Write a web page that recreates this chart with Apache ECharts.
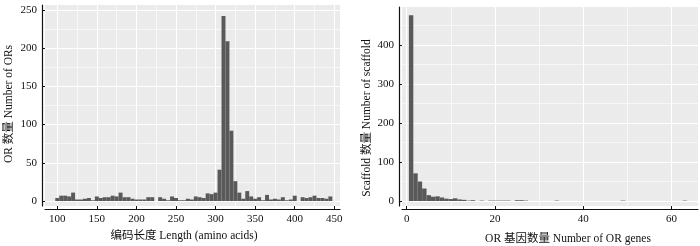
<!DOCTYPE html>
<html>
<head>
<meta charset="utf-8">
<script src="https://cdn.jsdelivr.net/npm/echarts@6/dist/echarts.min.js"></script>
<style>
html, body { margin: 0; padding: 0; background: #fff; }
#chart { width: 700px; height: 246px; }
</style>
</head>
<body>
<div id="chart"></div>
<script>
// left panel: coding length histogram (bin width 5 aa)
const lengthBins = [100, 105, 110, 115, 120, 125, 130, 135, 140, 145,
    150, 155, 160, 165, 170, 175, 180, 185, 190, 195,
    200, 205, 210, 215, 220, 225, 230, 235, 240, 245,
    250, 255, 260, 265, 270, 275, 280, 285, 290, 295,
    300, 305, 310, 315, 320, 325, 330, 335, 340, 345,
    350, 355, 360, 365, 370, 375, 380, 385, 390, 395,
    400, 405, 410, 415, 420, 425, 430, 435, 440, 445];
const orCounts = [4, 7, 7, 6, 11, 2, 2, 3, 4, 1,
    6, 4, 5, 5, 7, 6, 11, 5, 5, 3,
    2, 2, 2, 5, 5, 0, 5, 3, 1, 6,
    4, 1, 1, 3, 2, 6, 5, 4, 10, 9,
    11, 41, 242, 209, 92, 26, 11, 3, 13, 6,
    3, 5, 1, 8, 2, 3, 2, 5, 1, 2,
    7, 0, 5, 4, 5, 7, 4, 4, 3, 6];
const lengthTicks = [100, 150, 200, 250, 300, 350, 400, 450];
const lengthMinor = [125, 175, 225, 275, 325, 375, 425];
const orTicks = [0, 50, 100, 150, 200, 250];
const orMinor = [25, 75, 125, 175, 225];

// right panel: OR genes per scaffold (bin width 1)
const geneBins = [1, 2, 3, 4, 5, 6, 7, 8, 9, 10, 11, 12, 13, 14, 15,
    17, 19, 20, 21, 22, 23, 25, 26, 27, 34, 49, 63];
const scaffoldCounts = [476, 71, 50, 32, 15, 11, 12, 9, 6, 5, 7, 4, 3, 1, 2,
    1, 1, 1, 1, 1, 1, 2, 2, 1, 1, 1, 1];
const geneTicks = [0, 20, 40, 60];
const geneMinor = [10, 30, 50];
const scaffoldTicks = [0, 100, 200, 300, 400];
const scaffoldMinor = [50, 150, 250, 350, 450];

const FONT = '"Liberation Serif", "Noto Sans CJK SC", serif';
const PANEL = '#EBEBEB';
const BAR = '#595959';
const INK = '#111111';

const histItem = (binWidth) => (params, api) => {
    const x = api.value(0);
    const y = api.value(1);
    const p0 = api.coord([x - binWidth / 2, 0]);
    const p1 = api.coord([x + binWidth / 2, y]);
    return {
        type: 'rect',
        shape: { x: p0[0], y: p1[1], width: p1[0] - p0[0], height: p0[1] - p1[1] },
        style: { fill: BAR },
    };
};

const mainAxis = (gridIndex, position, min, max, ticks) => ({
    type: 'value',
    gridIndex,
    position,
    min,
    max,
    offset: 3,
    axisLine: { show: true, onZero: false, lineStyle: { color: INK, width: 1.2 } },
    axisTick: { show: true, inside: true, length: 3, customValues: ticks, lineStyle: { color: INK } },
    axisLabel: { customValues: ticks, color: INK, fontFamily: FONT, fontSize: 11, margin: 5 },
    splitLine: { show: true, lineStyle: { color: '#FFFFFF', width: 1.1 } },
});

const minorAxis = (gridIndex, position, min, max, ticks) => ({
    type: 'value',
    gridIndex,
    position,
    min,
    max,
    axisLine: { show: false, onZero: false },
    axisTick: { show: false, customValues: ticks },
    axisLabel: { show: false, customValues: ticks },
    splitLine: { show: true, lineStyle: { color: '#FFFFFF', width: 0.6 } },
});

const chart = echarts.init(document.getElementById('chart'), null, { renderer: 'canvas' });

const title = (text, x, y, rotate) => ({
    type: 'text',
    x,
    y,
    rotation: rotate ? Math.PI / 2 : 0,
    style: {
        text,
        font: '11.5px ' + FONT,
        fill: INK,
        textAlign: 'center',
        textVerticalAlign: 'middle',
        align: 'center',
        verticalAlign: 'middle',
    },
});

chart.setOption({
    animation: false,
    backgroundColor: '#FFFFFF',
    grid: [
        { left: 45, top: 5, width: 295, height: 201, show: true, backgroundColor: PANEL, borderWidth: 0 },
        { left: 402, top: 7, width: 296, height: 199, show: true, backgroundColor: PANEL, borderWidth: 0 },
    ],
    xAxis: [
        minorAxis(0, 'bottom', 84.5, 457.2, lengthMinor),
        mainAxis(0, 'bottom', 84.5, 457.2, lengthTicks),
        minorAxis(1, 'bottom', -1.06, 66, geneMinor),
        mainAxis(1, 'bottom', -1.06, 66, geneTicks),
    ],
    yAxis: [
        minorAxis(0, 'left', -6.5, 256.5, orMinor),
        mainAxis(0, 'left', -6.5, 256.5, orTicks),
        minorAxis(1, 'left', -12.8, 497.4, scaffoldMinor),
        mainAxis(1, 'left', -12.8, 497.4, scaffoldTicks),
    ],
    series: [
        {
            type: 'custom',
            xAxisIndex: 1,
            yAxisIndex: 1,
            renderItem: histItem(5),
            data: lengthBins.map((b, i) => [b, orCounts[i]]),
            z: 5,
        },
        {
            type: 'custom',
            xAxisIndex: 3,
            yAxisIndex: 3,
            renderItem: histItem(1),
            data: geneBins.map((b, i) => [b, scaffoldCounts[i]]),
            z: 5,
        },
    ],
    graphic: [
        title('编码长度 Length (amino acids)', 184, 236, false),
        title('OR 基因数量 Number of OR genes', 568, 239, false),
        title('OR 数量 Number of ORs', 9, 104, true),
        title('Scaffold 数量 Number of scaffold', 367, 118, true),
    ],
});
</script>
</body>
</html>
